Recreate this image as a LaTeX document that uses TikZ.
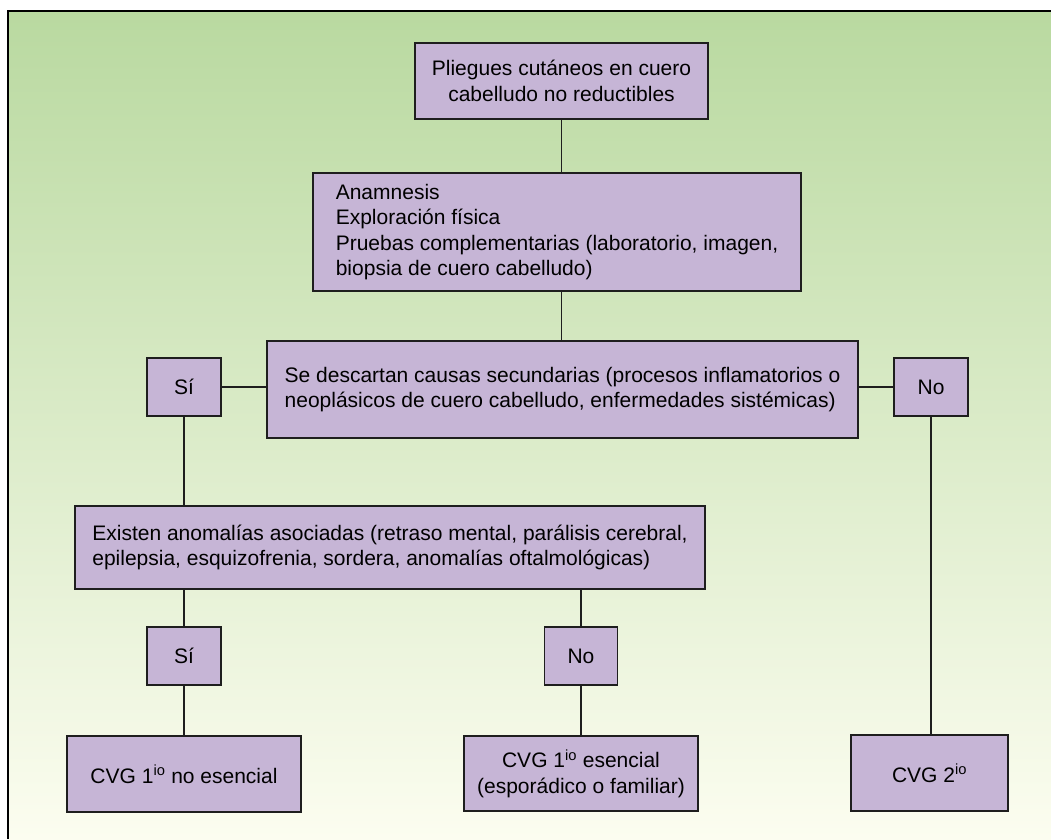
\documentclass[tikz,border=0pt]{standalone}
\usepackage{fontspec}
\setmainfont{Liberation Sans}
\definecolor{boxc}{RGB}{198,181,214}
\definecolor{bgtop}{RGB}{185,217,160}
\definecolor{bgbot}{RGB}{252,253,240}
\definecolor{edge}{RGB}{30,30,30}
\tikzset{
  box/.style={draw=edge, fill=boxc, line width=1.3pt, inner sep=0pt, font=\fontsize{21}{25.5}\selectfont, text=black},
  link/.style={draw=edge, line width=1.3pt}
}
\begin{document}
\begin{tikzpicture}[x=1pt,y=-1pt]
\useasboundingbox (0,0) rectangle (1051,839);
\fill[white] (0,0) rectangle (1051,839);
\shade[top color=bgtop, bottom color=bgbot] (8,11) rectangle (1051,839);
\draw[black, line width=1.6pt] (8,839) -- (8,11) -- (1051,11);

\node[box, minimum width=293pt, minimum height=76pt, align=center] (n1) at (561.5,81)
  {Pliegues cutáneos en cuero\\cabelludo no reductibles};
\node[box, minimum width=488pt, minimum height=118pt, align=left] (n2) at (557,232)
  {Anamnesis\\Exploración física\\Pruebas complementarias (laboratorio, imagen,\\biopsia de cuero cabelludo)};
\node[box, minimum width=591pt, minimum height=97pt, align=left] (n3) at (562.5,389.5)
  {Se descartan causas secundarias (procesos inflamatorios o\\neoplásicos de cuero cabelludo, enfermedades sistémicas)};
\node[box, minimum width=74pt, minimum height=58pt] (si1) at (184,387) {Sí};
\node[box, minimum width=74pt, minimum height=58pt] (no1) at (931,387) {No};
\node[box, minimum width=630pt, minimum height=83pt, align=left] (n4) at (390,547.5)
  {Existen anomalías asociadas (retraso mental, parálisis cerebral,\\epilepsia, esquizofrenia, sordera, anomalías oftalmológicas)};
\node[box, minimum width=74pt, minimum height=58pt] (si2) at (184,656) {Sí};
\node[box, minimum width=73pt, minimum height=58pt] (no2) at (581,656) {No};
\node[box, minimum width=234pt, minimum height=76pt, align=center] (c1) at (184,774)
  {CVG 1\textsuperscript{io} no esencial};
\node[box, minimum width=234pt, minimum height=75pt, align=center] (c2) at (581,773.5)
  {CVG 1\textsuperscript{io} esencial\\(esporádico o familiar)};
\node[box, minimum width=157pt, minimum height=76pt, align=center] (c3) at (929.5,773)
  {CVG 2\textsuperscript{io}};

\path[link] (n1.south) -- (n1 |- n2.north);
\path[link] (n1 |- n2.south) -- (n1 |- n3.north);
\path[link] (si1.east) -- (si1 -| n3.west);
\path[link] (no1.west) -- (no1 -| n3.east);
\path[link] (si1.south) -- (si1 |- n4.north);
\path[link] (si1 |- n4.south) -- (si2.north);
\path[link] (no2 |- n4.south) -- (no2.north);
\path[link] (si2.south) -- (si2 |- c1.north);
\path[link] (no2.south) -- (no2 |- c2.north);
\path[link] (no1.south) -- (no1 |- c3.north);
\end{tikzpicture}
\end{document}
